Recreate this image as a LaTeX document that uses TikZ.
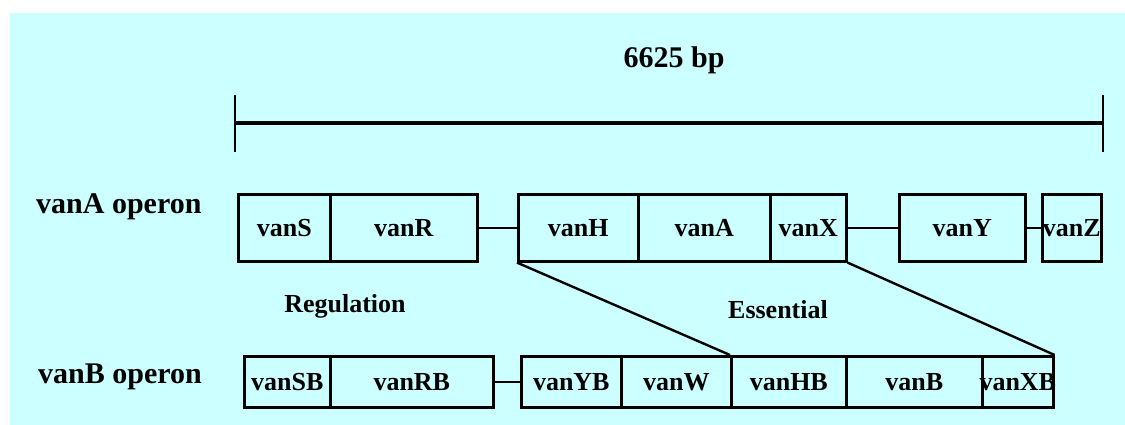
\documentclass[tikz,border=0pt]{standalone}
\usepackage{fontspec}
\setmainfont{Liberation Serif}
\definecolor{bgcyan}{RGB}{204,255,255}
\begin{document}
\begin{tikzpicture}[x=1pt,y=-1pt,
  gene/.style={draw=black,line width=2.6pt,minimum height=67pt,inner sep=0pt,anchor=north west,font=\fontsize{26}{26}\selectfont\bfseries},
  geneb/.style={gene,minimum height=51pt},
  link/.style={line width=2.4pt},
  lbl/.style={font=\fontsize{30}{30}\selectfont\bfseries,inner sep=0pt},
  sublbl/.style={font=\fontsize{26}{26}\selectfont\bfseries,inner sep=0pt}]
\useasboundingbox (0,0) rectangle (1125,425);
\fill[bgcyan] (10,13) rectangle (1125,425);
% scale bar
\node[lbl] (bp) at (674,60) {6625 bp};
\coordinate (bl) at (235,123);
\coordinate (br) at (1103,123);
\draw[line width=3.5pt] (bl) -- (br);
\draw[line width=2pt] (235,95) -- (235,152);
\draw[line width=2pt] (1103,95) -- (1103,152);
% operon labels
\node[lbl,anchor=west] (la) at (36,207) {vanA operon};
\node[lbl,anchor=west] (lb) at (38,377) {vanB operon};
\node[sublbl] (reg) at (345,306) {Regulation};
\node[sublbl] (ess) at (778,310) {Essential};
% vanA row
\node[gene,minimum width=92pt] (vanS) at (237,193) {vanS};
\node[gene,minimum width=147pt] (vanR) at (329,193) {vanR};
\node[gene,minimum width=120pt] (vanH) at (517,193) {vanH};
\node[gene,minimum width=132pt] (vanA) at (637,193) {vanA};
\node[gene,minimum width=76pt] (vanX) at (769,193) {vanX};
\node[gene,minimum width=126pt] (vanY) at (898,193) {vanY};
\node[gene,minimum width=59pt] (vanZ) at (1041,193) {\makebox[0pt]{vanZ}};
\draw[link] (vanR.east) -- (vanH.west);
\draw[link] (vanX.east) -- (vanY.west);
\draw[link] (vanY.east) -- (vanZ.west);
% vanB row
\node[geneb,minimum width=86pt] (vanSB) at (243,355) {\makebox[0pt]{vanSB}};
\node[geneb,minimum width=163pt] (vanRB) at (329,355) {vanRB};
\node[geneb,minimum width=100pt] (vanYB) at (520,355) {vanYB};
\node[geneb,minimum width=110pt] (vanW) at (620,355) {vanW};
\node[geneb,minimum width=115pt] (vanHB) at (730,355) {vanHB};
\node[geneb,minimum width=136pt] (vanB) at (845,355) {vanB};
\node[geneb,minimum width=71pt] (vanXB) at (981,355) {\makebox[0pt]{vanXB}};
\draw[link] (vanRB.east) -- (vanYB.west);
% expansion lines
\draw[link] (vanH.south west) -- (vanHB.north west);
\draw[link] (vanX.south east) -- (vanXB.north east);
\end{tikzpicture}
\end{document}
